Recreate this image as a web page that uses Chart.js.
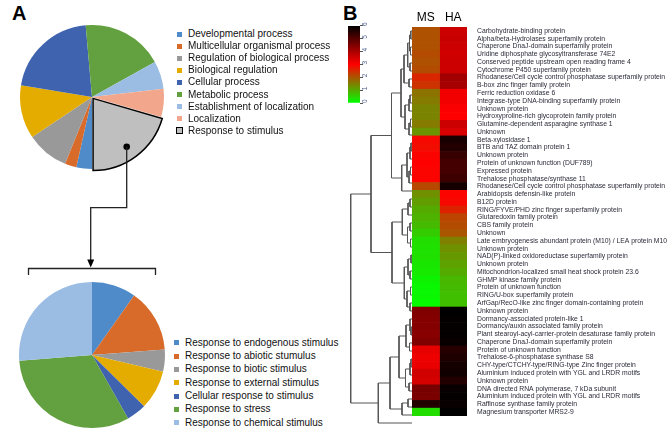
<!DOCTYPE html>
<html>
<head>
<meta charset="utf-8">
<script src="https://cdn.jsdelivr.net/npm/chart.js@4.4.1/dist/chart.umd.min.js"></script>
<style>
  body { margin: 0; width: 668px; height: 430px; overflow: hidden; background: #fff; position: relative;
         font-family: Arial, "Liberation Sans", sans-serif; }
  .abs { position: absolute; }
  .panel { font-weight: bold; font-size: 20px; color: #000; line-height: 20px; }
  .leg { position: absolute; font-size: 10px; line-height: 12px; white-space: nowrap; color: #111; }
  .leg i { position: absolute; width: 5px; height: 5px; left: -11px; top: 3.5px; }
  .leg i.box { width: 5px; height: 5px; left: -12px; top: 2.5px; border: 1.5px solid #000; }
</style>
</head>
<body>
<div class="abs panel" style="left:12px;top:3px">A</div>
<div class="abs panel" style="left:343px;top:3px">B</div>

<canvas id="goPie" class="abs" style="left:7px;top:12px" width="170" height="170"></canvas>
<canvas id="stimPie" class="abs" style="left:17px;top:280px" width="150" height="150"></canvas>
<div id="goLegend"></div>
<div id="stimLegend"></div>

<svg class="abs" style="left:0;top:0" width="340" height="290">
  <circle cx="126.7" cy="146.7" r="3.3" fill="#000"/>
  <polyline points="126.7,146.7 126.7,207.7 90.7,207.7 90.7,261" fill="none" stroke="#222" stroke-width="1.3"/>
  <polygon points="87.2,259.5 94.2,259.5 90.7,267.5" fill="#000"/>
  <polyline points="28.5,275 28.5,268.5 155.5,268.5 155.5,275" fill="none" stroke="#222" stroke-width="1.3"/>
</svg>

<canvas id="scaleBar" class="abs" style="left:348px;top:20px" width="35" height="90"></canvas>
<canvas id="dendro" class="abs" style="left:330px;top:27px" width="82" height="400"></canvas>
<canvas id="heat" class="abs" style="left:412px;top:7px" width="256" height="423"></canvas>

<script>
// GO categories (panel A, top pie)
const goTerms = ['Developmental process', 'Multicellular organismal process', 'Regulation of biological process',
  'Biological regulation', 'Cellular process', 'Metabolic process', 'Establishment of localization',
  'Localization', 'Response to stimulus'];
const goShare = [3.5, 2.6, 9.5, 12, 21, 18.3, 6.3, 6.3, 20.5];
const goColors = ['#4e8bc8', '#d86b2a', '#999999', '#e5ac00', '#3f63ae', '#63a03f', '#9bbde3', '#f2a78c', '#bfbfbf'];

// breakdown of "Response to stimulus"
const stimTerms = ['Response to endogenous stimulus', 'Response to abiotic stumulus', 'Response to biotic stimulus',
  'Response to external stimulus', 'Cellular response to stimulus', 'Response to stress', 'Response to chemical stimulus'];
const stimShare = [9.8, 14, 4.9, 8.7, 4.4, 32, 26.3];
const stimColors = ['#4e8bc8', '#d86b2a', '#999999', '#e5ac00', '#3f63ae', '#63a03f', '#9bbde3'];

// heatmap (panel B)
const samples = ['MS', 'HA'];
const genes = [
  'Carbohydrate-binding protein', 'Alpha/beta-Hydrolases superfamily protein', 'Chaperone DnaJ-domain superfamily protein',
  'Uridine diphosphate glycosyltransferase 74E2', 'Conserved peptide upstream open reading frame 4',
  'Cytochrome P450 superfamily protein', 'Rhodanese/Cell cycle control phosphatase superfamily protein',
  'B-box zinc finger family protein', 'Ferric reduction oxidase 6', 'Integrase-type DNA-binding superfamily protein',
  'Unknown protein', 'Hydroxyproline-rich glycoprotein family protein', 'Glutamine-dependent asparagine synthase 1',
  'Unknown', 'Beta-xylosidase 1', 'BTB and TAZ domain protein 1', 'Unknown protein',
  'Protein of unknown function (DUF789)', 'Expressed protein', 'Trehalose phosphatase/synthase 11',
  'Rhodanese/Cell cycle control phosphatase superfamily protein', 'Arabidopsis defensin-like protein', 'B12D protein',
  'RING/FYVE/PHD zinc finger superfamily protein', 'Glutaredoxin family protein', 'CBS family protein', 'Unknown',
  'Late embryogenesis abundant protein (M10) / LEA protein M10', 'Unknown protein',
  'NAD(P)-linked oxidoreductase superfamily protein', 'Unknown protein',
  'Mitochondrion-localized small heat shock protein 23.6', 'GHMP kinase family protein', 'Protein of unknown function',
  'RING/U-box superfamily protein', 'ArfGap/RecO-like zinc finger domain-containing protein', 'Unknown protein',
  'Dormancy-associated protein-like 1', 'Dormancy/auxin associated family protein',
  'Plant stearoyl-acyl-carrier-protein desaturase family protein', 'Chaperone DnaJ-domain superfamily protein',
  'Protein of unknown function', 'Trehalose-6-phosphatase synthase S8', 'CHY-type/CTCHY-type/RING-type Zinc finger protein',
  'Aluminium induced protein with YGL and LRDR motifs', 'Unknown protein', 'DNA directed RNA polymerase, 7 kDa subunit',
  'Aluminium induced protein with YGL and LRDR motifs', 'Raffinose synthase family protein', 'Magnesium transporter MRS2-9'
];
const msValues = [2.05, 2.05, 2.05, 2.1, 2.05, 2.1, 2.55, 2.4, 1.65, 1.55,
  1.45, 1.45, 1.55, 1.25, 2.9, 2.85, 2.95, 3.0, 2.95, 2.95,
  2.15, 1.3, 1.15, 1.0, 0.9, 0.8, 0.6, 0.4, 0.35, 0.35,
  0.3, 0.25, 0.15, 0.1, 0.1, 0.05, 4.5, 4.45, 4.45, 4.4,
  4.5, 3.3, 3.2, 3.25, 3.55, 3.5, 4.6, 4.55, 5.6, 0.4];
const haValues = [3.6, 3.65, 3.6, 3.55, 3.6, 3.6, 4.1, 4.05, 3.15, 3.15,
  3.05, 3.0, 3.6, 3.45, 5.7, 5.6, 5.35, 5.2, 5.2, 5.3,
  5.75, 2.95, 2.9, 2.6, 2.2, 2.1, 2.0, 1.5, 1.3, 1.2,
  1.1, 1.0, 0.85, 0.8, 0.75, 0.75, 6.0, 5.95, 5.95, 5.95,
  5.9, 5.55, 5.65, 5.75, 5.8, 5.6, 5.9, 5.95, 5.9, 6.0];
const scaleTicks = [0, 1, 2, 3, 4, 5, 6];

// row clustering: [height, left, right], leaves are row indices
const tree =
  [61.3,
    [41,
      [20.5,
        [11,
          [8, [4.3, [2.5, [1.2, 0, 1], [1.5, 2, 3]], [2, 4, 5]], [3, 6, 7]],
          [7, [3, [2, 8, 9], 10], [3, [1.5, 11, 12], 13]]],
        [10.3, [5, [2, [1, 14, 15], 16], [3, [1.5, 17, 18], 19]], 20]],
      [20,
        [9.7, [4, [2, 21, 22], 23], [4.5, [2, 24, 25], [1.5, 26, 27]]],
        [7.7, [4, [1, 28, 29], [2, 30, 31]], [5, [1.5, 32, 33], [2, 34, 35]]]]],
    [33.7,
      [22,
        [13, [6, [2, 36, [1, 37, 38]], [2.5, 39, 40]], [6.5, [2, [1, 41, 42], 43], [3, 44, 45]]],
        [10, [4, 46, 47], 48]],
      49]];

Chart.defaults.font.family = 'Arial, "Liberation Sans", sans-serif';
Chart.defaults.animation = false;
Chart.defaults.events = [];
Chart.defaults.plugins.legend.display = false;
Chart.defaults.plugins.tooltip.enabled = false;

// green -> red -> black
function heatColor(v) {
  if (v <= 3) {
    const t = v / 3;
    return `rgb(${Math.round(255 * t)},${Math.round(255 * (1 - t))},0)`;
  }
  const t = (v - 3) / 3;
  return `rgb(${Math.round(255 * (1 - t))},0,0)`;
}

function buildLegend(id, terms, colors, left, top, step, boxLast) {
  const holder = document.getElementById(id);
  terms.forEach((t, i) => {
    const d = document.createElement('div');
    d.className = 'leg';
    d.style.left = left + 'px';
    d.style.top = (top + i * step) + 'px';
    const isBox = boxLast && i === terms.length - 1;
    d.innerHTML = `<i class="${isBox ? 'box' : ''}" style="background:${colors[i]}"></i>${t}`;
    holder.appendChild(d);
  });
}

// pies
new Chart(document.getElementById('goPie'), {
  type: 'pie',
  data: {
    labels: goTerms,
    datasets: [{
      data: goShare,
      backgroundColor: goColors,
      borderColor: '#000',
      borderWidth: goTerms.map((t, i) => i === goTerms.length - 1 ? 1.5 : 0),
      borderJoinStyle: 'miter',
      offset: goTerms.map((t, i) => i === goTerms.length - 1 ? 7 : 0)
    }]
  },
  options: { responsive: false, rotation: 180, radius: 72 }
});

new Chart(document.getElementById('stimPie'), {
  type: 'pie',
  data: {
    labels: stimTerms,
    datasets: [{ data: stimShare, backgroundColor: stimColors, borderWidth: 0 }]
  },
  options: { responsive: false, rotation: 0, radius: 73 }
});

buildLegend('goLegend', goTerms, goColors, 188, 28, 12.1, true);
buildLegend('stimLegend', stimTerms, stimColors, 185, 336.7, 13.33, false);

// colour key
new Chart(document.getElementById('scaleBar'), {
  type: 'bar',
  data: {
    labels: [''],
    datasets: [{
      data: [[scaleTicks[0], scaleTicks[scaleTicks.length - 1]]],
      barPercentage: 1, categoryPercentage: 1, borderWidth: 0,
      backgroundColor: ctx => {
        const chart = ctx.chart;
        if (!chart.chartArea) return '#f00';
        const y = chart.scales.y;
        const lo = scaleTicks[0], hi = scaleTicks[scaleTicks.length - 1];
        const g = chart.ctx.createLinearGradient(0, y.getPixelForValue(lo), 0, y.getPixelForValue(hi));
        scaleTicks.forEach(t => g.addColorStop((t - lo) / (hi - lo), heatColor(t)));
        return g;
      }
    }]
  },
  options: {
    responsive: false,
    layout: { padding: { top: 5, bottom: 7, left: 0, right: 0 } },
    scales: {
      x: { display: false },
      y: {
        position: 'right', min: 0, max: 6,
        afterFit: s => { s.width = 23; },
        afterBuildTicks: axis => { axis.ticks = scaleTicks.map(v => ({ value: v })); },
        ticks: { font: { size: 6.5 }, color: '#4b5d8c', minRotation: 90, maxRotation: 90, padding: 2 },
        grid: { drawOnChartArea: false, drawTicks: true, tickLength: 3, color: '#555' },
        border: { display: false }
      }
    }
  }
});

// dendrogram
const segs = [];
function walk(node) {
  if (typeof node === 'number') return { h: 0, y: node };
  const [h, a, b] = node;
  const l = walk(a), r = walk(b);
  segs.push([{ x: l.h, y: l.y }, { x: h, y: l.y }, { x: h, y: r.y }, { x: r.h, y: r.y }]);
  return { h, y: (l.y + r.y) / 2 };
}
walk(tree);

new Chart(document.getElementById('dendro'), {
  type: 'scatter',
  data: {
    datasets: segs.map(s => ({
      data: s, showLine: true, borderColor: '#555', borderWidth: 1, pointRadius: 0, fill: false, clip: false
    }))
  },
  options: {
    responsive: false,
    layout: { padding: 0 },
    scales: {
      x: { type: 'linear', min: 0, max: 82, reverse: true, display: false },
      y: { type: 'linear', min: -0.5, max: genes.length - 0.5, reverse: true, display: false }
    }
  }
});

// heatmap
new Chart(document.getElementById('heat'), {
  type: 'bar',
  data: {
    labels: genes,
    datasets: [msValues, haValues].map((vals, c) => ({
      label: samples[c],
      data: vals.map(() => [c, c + 1]),
      backgroundColor: vals.map(heatColor),
      borderWidth: 0, grouped: false, barPercentage: 1, categoryPercentage: 1
    }))
  },
  options: {
    responsive: false,
    indexAxis: 'y',
    layout: { padding: { top: 0, bottom: 3, left: 0, right: 0 } },
    scales: {
      x: {
        position: 'top', min: 0, max: samples.length,
        afterFit: s => { s.height = 20; },
        afterBuildTicks: axis => { axis.ticks = samples.map((s, i) => ({ value: i + 0.5 })); },
        ticks: { callback: (v, i) => samples[i], font: { size: 12 }, color: '#000', padding: 2, maxRotation: 0 },
        grid: { display: false, drawTicks: false },
        border: { display: false }
      },
      y: {
        position: 'right',
        afterFit: s => { s.width = 201; },
        ticks: { font: { size: 6.8 }, color: '#2b2b3a', padding: 10, autoSkip: false },
        grid: { display: false, drawTicks: false },
        border: { display: false }
      }
    }
  }
});
</script>
</body>
</html>
